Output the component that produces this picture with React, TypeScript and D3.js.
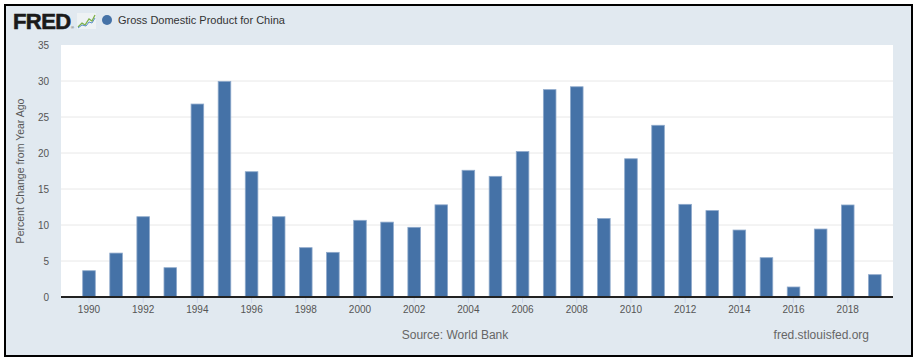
import React from "react";
import * as d3 from "d3";

const years = [1990,1991,1992,1993,1994,1995,1996,1997,1998,1999,2000,2001,2002,2003,2004,2005,2006,2007,2008,2009,2010,2011,2012,2013,2014,2015,2016,2017,2018,2019];
const values = [3.65,6.1,11.15,4.07,26.8,29.95,17.4,11.15,6.85,6.2,10.65,10.4,9.68,12.8,17.6,16.76,20.2,28.8,29.2,10.9,19.2,23.85,12.87,12.0,9.3,5.46,1.39,9.44,12.78,3.1];
const yTicks = [0,5,10,15,20,25,30,35];
const xTickYears = [1990,1992,1994,1996,1998,2000,2002,2004,2006,2008,2010,2012,2014,2016,2018];
const seriesName = "Gross Domestic Product for China";
const yTitle = "Percent Change from Year Ago";
const sourceText = "Source: World Bank";
const siteText = "fred.stlouisfed.org";

const W = 916, H = 361;
const plot = { left: 61, right: 893, top: 45, bottom: 297 };
const font = "'Liberation Sans', Arial, sans-serif";

export default function App() {
  const x = d3.scaleLinear().domain([1988.967, 2019.67]).range([plot.left, plot.right]);
  const y = d3.scaleLinear().domain([0, 35]).range([plot.bottom, plot.top]);
  const barW = 12.6;
  return (
    <svg width={W} height={H} style={{ position: "absolute", left: 0, top: 0, display: "block" }}>
      <rect x={0} y={0} width={W} height={H} fill="#ffffff" />
      <rect x={5} y={5} width={907} height={351} fill="#e1e9f0" stroke="#000" strokeWidth={2} />
      {/* FRED logo */}
      <text x={13} y={29} fontFamily="'Liberation Sans', Arial, sans-serif" fontWeight="bold" fontSize={22} fill="#1a1a1a" letterSpacing={-0.6} stroke="#1a1a1a" strokeWidth={0.6}>FRED</text>
      <text x={71} y={29} fontFamily={font} fontSize={4} fill="#333">®</text>
      <g>
        <rect x={77} y={13} width={19} height={16} fill="#eef2f4" />
        <polyline points="78,27 82,23 85,25 89,19 92,21 95,15" fill="none" stroke="#7fb24a" strokeWidth={1.3} />
        <polyline points="78,28 82,25 86,26 89,22 92,23 95,18" fill="none" stroke="#5b8fc8" strokeWidth={1} />
      </g>
      <circle cx={107} cy={20} r={5} fill="#4572a7" />
      <text x={118} y={24} fontFamily={font} fontSize={11} fill="#333">{seriesName}</text>
      {/* plot background */}
      <rect x={plot.left} y={plot.top} width={plot.right - plot.left} height={plot.bottom - plot.top} fill="#fff" />
      {yTicks.filter(t => t > 0 && t < 35).map(t => (
        <line key={t} x1={plot.left} x2={plot.right} y1={y(t)} y2={y(t)} stroke="#e8e8e8" strokeWidth={1} />
      ))}
      {yTicks.map(t => (
        <text key={t} x={49} y={y(t) + 3.5} textAnchor="end" fontFamily={font} fontSize={10} fill="#555">{t}</text>
      ))}
      <text transform={`translate(24,171) rotate(-90)`} textAnchor="middle" fontFamily={font} fontSize={10.5} fill="#555">{yTitle}</text>
      {years.map((yr, i) => (
        <rect key={yr} x={x(yr) - barW / 2} y={y(values[i])} width={barW} height={y(0) - y(values[i])} fill="#4572a7" stroke="#8ea9cb" strokeWidth={0.8} />
      ))}
      {xTickYears.map(yr => (
        <g key={yr}>
          <line x1={x(yr)} x2={x(yr)} y1={plot.bottom} y2={plot.bottom + 6} stroke="#ccd6eb" strokeWidth={1} />
          <text x={x(yr)} y={313} textAnchor="middle" fontFamily={font} fontSize={10} fill="#555">{yr}</text>
        </g>
      ))}
      <line x1={plot.left} x2={plot.right} y1={plot.bottom} y2={plot.bottom} stroke="#222" strokeWidth={2} />
      <text x={455} y={339} textAnchor="middle" fontFamily={font} fontSize={12} fill="#666">{sourceText}</text>
      <text x={869} y={339} textAnchor="end" fontFamily={font} fontSize={12} fill="#666">{siteText}</text>
    </svg>
  );
}
